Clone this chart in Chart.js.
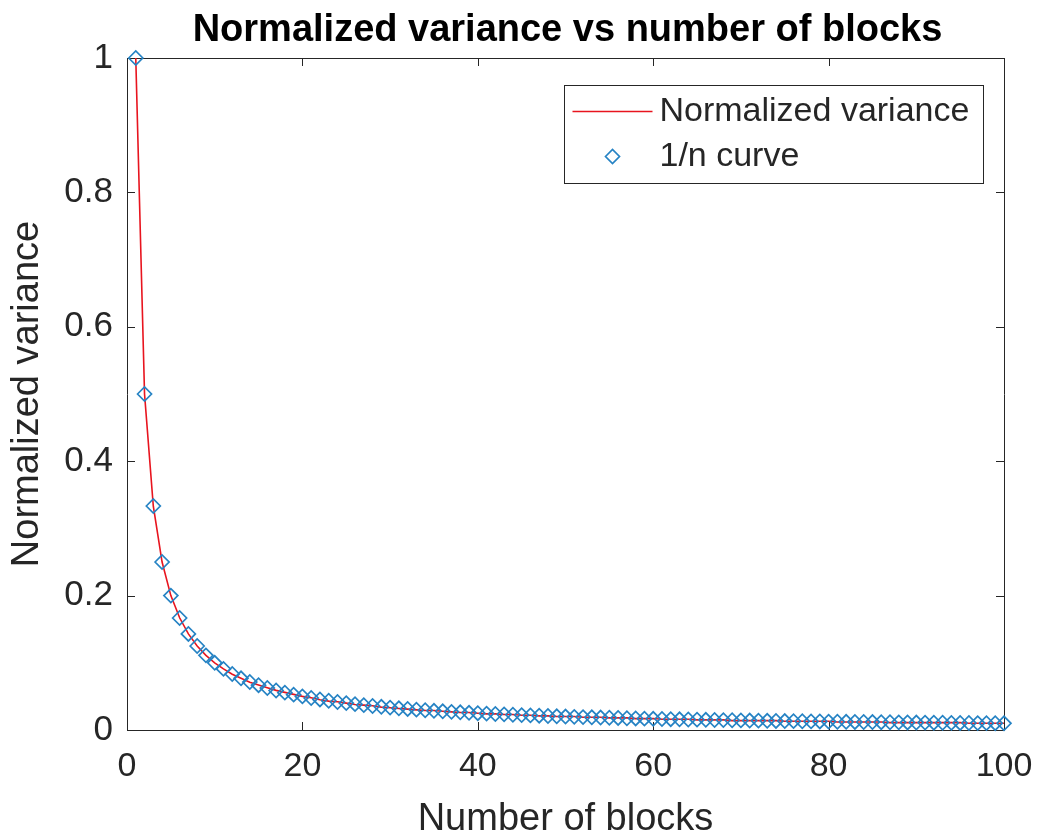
<!DOCTYPE html>
<html>
<head>
<meta charset="utf-8">
<title>Normalized variance vs number of blocks</title>
<script src="https://cdn.jsdelivr.net/npm/chart.js@4.4.0/dist/chart.umd.min.js"></script>
<style>
  html, body { margin: 0; padding: 0; background: #fff; }
  #wrap { width: 1041px; height: 839px; position: relative; }
</style>
</head>
<body>
<div id="wrap"><canvas id="chart"></canvas></div>
<script>
// ── Datos ─────────────────────────────────────
const BLOCKS = [
  1, 2, 3, 4, 5, 6, 7, 8, 9, 10, 11, 12, 13, 14, 15, 16, 17, 18, 19, 20,
  21, 22, 23, 24, 25, 26, 27, 28, 29, 30, 31, 32, 33, 34, 35, 36, 37, 38, 39, 40,
  41, 42, 43, 44, 45, 46, 47, 48, 49, 50, 51, 52, 53, 54, 55, 56, 57, 58, 59, 60,
  61, 62, 63, 64, 65, 66, 67, 68, 69, 70, 71, 72, 73, 74, 75, 76, 77, 78, 79, 80,
  81, 82, 83, 84, 85, 86, 87, 88, 89, 90, 91, 92, 93, 94, 95, 96, 97, 98, 99, 100
];

// línea roja
const NORM_VAR = [
  1.000, 0.500, 0.333, 0.250, 0.200, 0.167, 0.143, 0.125, 0.111, 0.100,
  0.091, 0.083, 0.077, 0.071, 0.067, 0.063, 0.059, 0.056, 0.053, 0.050,
  0.048, 0.045, 0.043, 0.042, 0.040, 0.038, 0.037, 0.036, 0.034, 0.033,
  0.032, 0.031, 0.030, 0.029, 0.029, 0.028, 0.027, 0.026, 0.026, 0.025,
  0.024, 0.024, 0.023, 0.023, 0.022, 0.022, 0.021, 0.021, 0.020, 0.020,
  0.020, 0.019, 0.019, 0.019, 0.018, 0.018, 0.018, 0.017, 0.017, 0.017,
  0.016, 0.016, 0.016, 0.016, 0.015, 0.015, 0.015, 0.015, 0.014, 0.014,
  0.014, 0.014, 0.014, 0.014, 0.013, 0.013, 0.013, 0.013, 0.013, 0.013,
  0.012, 0.012, 0.012, 0.012, 0.012, 0.012, 0.011, 0.011, 0.011, 0.011,
  0.011, 0.011, 0.011, 0.011, 0.011, 0.010, 0.010, 0.010, 0.010, 0.010
];

// rombos azules
const INV_N = [
  1.0000, 0.5000, 0.3333, 0.2500, 0.2000, 0.1667, 0.1429, 0.1250, 0.1111, 0.1000,
  0.0909, 0.0833, 0.0769, 0.0714, 0.0667, 0.0625, 0.0588, 0.0556, 0.0526, 0.0500,
  0.0476, 0.0455, 0.0435, 0.0417, 0.0400, 0.0385, 0.0370, 0.0357, 0.0345, 0.0333,
  0.0323, 0.0313, 0.0303, 0.0294, 0.0286, 0.0278, 0.0270, 0.0263, 0.0256, 0.0250,
  0.0244, 0.0238, 0.0233, 0.0227, 0.0222, 0.0217, 0.0213, 0.0208, 0.0204, 0.0200,
  0.0196, 0.0192, 0.0189, 0.0185, 0.0182, 0.0179, 0.0175, 0.0172, 0.0169, 0.0167,
  0.0164, 0.0161, 0.0159, 0.0156, 0.0154, 0.0152, 0.0149, 0.0147, 0.0145, 0.0143,
  0.0141, 0.0139, 0.0137, 0.0135, 0.0133, 0.0132, 0.0130, 0.0128, 0.0127, 0.0125,
  0.0123, 0.0122, 0.0120, 0.0119, 0.0118, 0.0116, 0.0115, 0.0114, 0.0112, 0.0111,
  0.0110, 0.0109, 0.0108, 0.0106, 0.0105, 0.0104, 0.0103, 0.0102, 0.0101, 0.0100
];

const X_TICKS = [0, 20, 40, 60, 80, 100];
const Y_TICKS = [0, 0.2, 0.4, 0.6, 0.8, 1];

const TITLE     = 'Normalized variance vs number of blocks';
const LABEL_VAR = 'Normalized variance';
const LABEL_INV = '1/n curve';

// ── Estilo ──────────────────────────────
const FONT    = "'Liberation Sans', Arial, Helvetica, sans-serif";
const AX_COL  = '#262626';
const RED     = '#e8141e';
const BLUE    = '#2683c4';
const TICK_LEN = 8;

const pts = ys => BLOCKS.map((x, i) => ({ x, y: ys[i] }));

// caja, marcas interiores, título y leyenda al estilo MATLAB
const matlabAxes = {
  id: 'matlabAxes',
  beforeDatasetsDraw(chart) {
    const { ctx, chartArea: a, scales } = chart;
    ctx.save();
    ctx.strokeStyle = AX_COL;
    ctx.lineWidth = 1;
    ctx.beginPath();
    ctx.rect(Math.round(a.left) + 0.5, Math.round(a.top) + 0.5,
             Math.round(a.right - a.left), Math.round(a.bottom - a.top));
    X_TICKS.forEach(v => {
      const px = Math.round(scales.x.getPixelForValue(v)) + 0.5;
      ctx.moveTo(px, a.bottom); ctx.lineTo(px, a.bottom - TICK_LEN);
      ctx.moveTo(px, a.top);    ctx.lineTo(px, a.top + TICK_LEN);
    });
    Y_TICKS.forEach(v => {
      const py = Math.round(scales.y.getPixelForValue(v)) + 0.5;
      ctx.moveTo(a.left, py);  ctx.lineTo(a.left + TICK_LEN, py);
      ctx.moveTo(a.right, py); ctx.lineTo(a.right - TICK_LEN, py);
    });
    ctx.stroke();

    // título centrado sobre el área de trazado
    ctx.fillStyle = '#000';
    ctx.font = `bold 38px ${FONT}`;
    ctx.textAlign = 'center';
    ctx.textBaseline = 'middle';
    ctx.fillText(TITLE, (a.left + a.right) / 2 + 2, 31);
    ctx.restore();
  },
  afterDatasetsDraw(chart) {
    const { ctx, chartArea: a } = chart;
    const w = 419, h = 98;
    const x0 = Math.round(a.right - 21 - w) + 0.5;
    const y0 = Math.round(a.top + 27) + 0.5;
    ctx.save();
    ctx.fillStyle = '#fff';
    ctx.fillRect(x0, y0, w, h);
    ctx.strokeStyle = AX_COL;
    ctx.lineWidth = 1;
    ctx.strokeRect(x0, y0, w, h);

    const row1 = y0 + 26, row2 = y0 + 71;
    ctx.strokeStyle = RED;
    ctx.lineWidth = 1.6;
    ctx.beginPath();
    ctx.moveTo(x0 + 8, row1); ctx.lineTo(x0 + 88, row1);
    ctx.stroke();

    const cx = x0 + 48, r = 7;
    ctx.strokeStyle = BLUE;
    ctx.lineWidth = 1.7;
    ctx.beginPath();
    ctx.moveTo(cx - r, row2); ctx.lineTo(cx, row2 - r);
    ctx.lineTo(cx + r, row2); ctx.lineTo(cx, row2 + r);
    ctx.closePath();
    ctx.stroke();

    ctx.fillStyle = AX_COL;
    ctx.font = `34px ${FONT}`;
    ctx.textAlign = 'left';
    ctx.textBaseline = 'middle';
    ctx.fillText(LABEL_VAR, x0 + 95, row1);
    ctx.fillText(LABEL_INV, x0 + 95, row2);
    ctx.restore();
  }
};

const chart = new Chart(document.getElementById('chart'), {
  type: 'scatter',
  data: {
    datasets: [
      {
        label: LABEL_VAR,
        data: pts(NORM_VAR),
        showLine: true,
        borderColor: RED,
        borderWidth: 1.6,
        pointRadius: 0,
        pointHoverRadius: 0,
        order: 1
      },
      {
        label: LABEL_INV,
        data: pts(INV_N),
        showLine: false,
        pointStyle: 'rectRot',
        pointRadius: 7,
        pointBorderColor: BLUE,
        pointBackgroundColor: 'rgba(0,0,0,0)',
        pointBorderWidth: 1.7,
        clip: false,
        order: 0
      }
    ]
  },
  options: {
    responsive: true,
    maintainAspectRatio: false,
    animation: false,
    events: [],
    layout: { padding: { left: 0, right: 37, top: 58, bottom: 0 } },
    plugins: {
      legend: { display: false },
      tooltip: { enabled: false },
      title: { display: false }
    },
    scales: {
      x: {
        type: 'linear',
        min: 0, max: 100,
        afterBuildTicks: s => { s.ticks = X_TICKS.map(v => ({ value: v })); },
        afterFit: s => { s.height = 109; s.paddingLeft = 0; s.paddingRight = 0; },
        grid: { display: false, drawTicks: false },
        border: { display: false },
        ticks: { color: AX_COL, padding: 16, font: { family: FONT, size: 34 }, maxRotation: 0 },
        title: {
          display: true,
          text: 'Number of blocks',
          color: AX_COL,
          font: { family: FONT, size: 38, lineHeight: 1 },
          padding: { top: 0, bottom: 0 }
        }
      },
      y: {
        type: 'linear',
        min: 0, max: 1,
        afterBuildTicks: s => { s.ticks = Y_TICKS.map(v => ({ value: v })); },
        afterFit: s => { s.width = 127; s.paddingTop = 0; s.paddingBottom = 0; },
        grid: { display: false, drawTicks: false },
        border: { display: false },
        ticks: {
          color: AX_COL, padding: 14, font: { family: FONT, size: 35 },
          callback: v => String(+v.toFixed(1))
        },
        title: {
          display: true,
          text: 'Normalized variance',
          color: AX_COL,
          font: { family: FONT, size: 38, lineHeight: 1 },
          padding: { top: 9, bottom: 0 }
        }
      }
    }
  },
  plugins: [matlabAxes]
});
</script>
</body>
</html>
